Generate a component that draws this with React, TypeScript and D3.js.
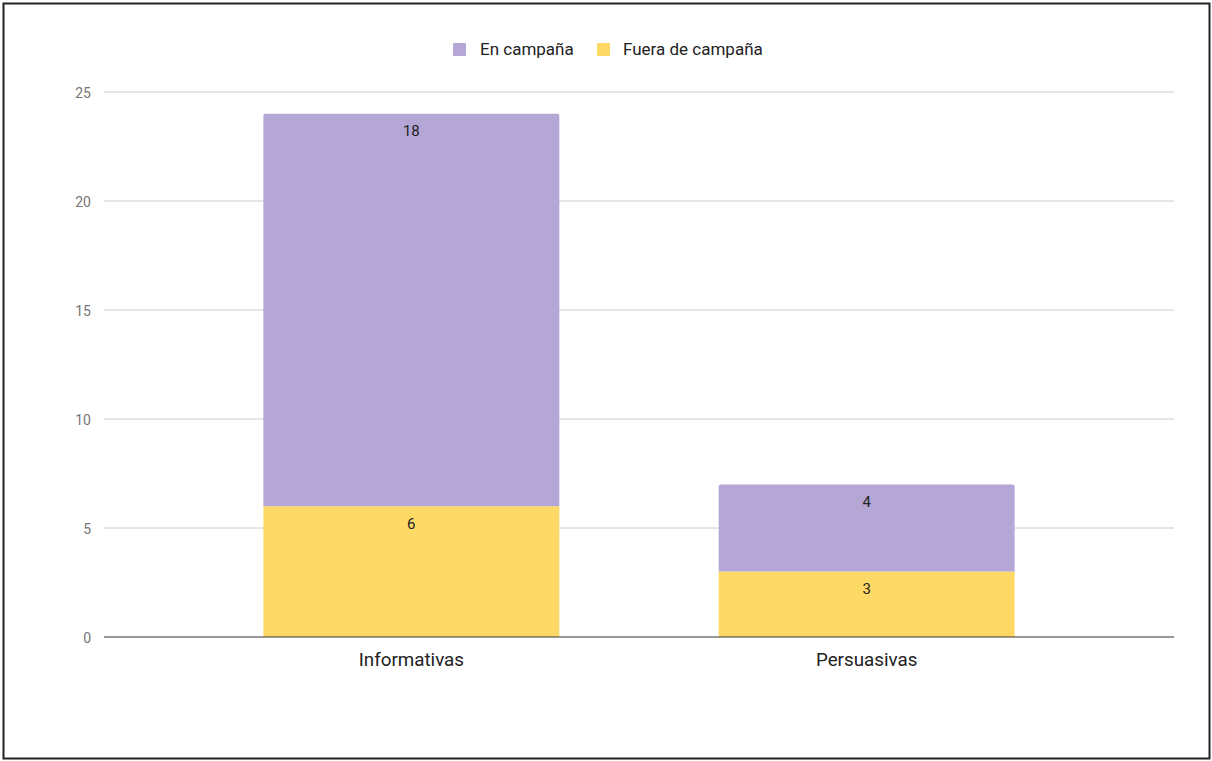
import React from "react";
import * as d3 from "d3";

const categories = ["Informativas", "Persuasivas"];
const seriesNames = ["Fuera de campaña", "En campaña"];
const fueraValues = [6, 3];
const enValues = [18, 4];
const yTicks = [0, 5, 10, 15, 20, 25];
const legendOrder = ["En campaña", "Fuera de campaña"];

const colors: Record<string, string> = {
  "En campaña": "#b4a7d6",
  "Fuera de campaña": "#ffd966",
};

const W = 1212;
const H = 761;
const FONT = "Roboto, 'Noto Sans', Arial, sans-serif";

export default function App() {
  const left = 104;
  const right = 1174;
  const top = 92;
  const bottom = 637;

  const x = d3
    .scaleBand<string>()
    .domain(categories)
    .range([left, right])
    .paddingInner(0.35)
    .paddingOuter(0.35);
  const y = d3.scaleLinear().domain([0, 25]).range([bottom, top]);

  const rows = categories.map((c, i) => ({
    cat: c,
    "Fuera de campaña": fueraValues[i],
    "En campaña": enValues[i],
  }));
  const stack = d3.stack<any>().keys(seriesNames);
  const layers = stack(rows);

  const bw = x.bandwidth();

  return (
    <svg
      width={W}
      height={H}
      style={{ position: "absolute", left: 0, top: 0, display: "block" }}
      fontFamily={FONT}
    >
      <rect x={0} y={0} width={W} height={H} fill="#fff" />
      <rect x={3.5} y={3.5} width={1206} height={755} fill="none" stroke="#222" strokeWidth={2} />

      {/* gridlines */}
      {yTicks.map((t) =>
        t === 0 ? null : (
          <line key={t} x1={left} x2={right} y1={y(t)} y2={y(t)} stroke="#cccccc" strokeWidth={1} />
        )
      )}
      {yTicks.map((t) => (
        <text
          key={"l" + t}
          x={91}
          y={y(t) + 6}
          textAnchor="end"
          fontSize={14}
          fill="#757575"
        >
          {t}
        </text>
      ))}

      {/* bars */}
      {layers.map((layer, li) =>
        layer.map((d, i) => {
          const x0 = x(categories[i])!;
          const y0 = y(d[1]);
          const h = y(d[0]) - y(d[1]);
          const isTop = li === layers.length - 1;
          const r = 2;
          const path = isTop
            ? `M${x0},${y0 + h} L${x0},${y0 + r} Q${x0},${y0} ${x0 + r},${y0} L${x0 + bw - r},${y0} Q${x0 + bw},${y0} ${x0 + bw},${y0 + r} L${x0 + bw},${y0 + h} Z`
            : `M${x0},${y0} h${bw} v${h} h${-bw} Z`;
          return (
            <g key={layer.key + i}>
              <path d={path} fill={colors[layer.key as string]} />
              <text
                x={x0 + bw / 2}
                y={y0 + 22.5}
                textAnchor="middle"
                fontSize={15}
                fill="#222"
              >
                {d[1] - d[0]}
              </text>
            </g>
          );
        })
      )}

      {/* baseline */}
      <line x1={left} x2={right} y1={y(0)} y2={y(0)} stroke="#333" strokeWidth={1} />

      {/* x labels */}
      {categories.map((c) => (
        <text
          key={c}
          x={x(c)! + bw / 2}
          y={666}
          textAnchor="middle"
          fontSize={18.8}
          fill="#222"
        >
          {c}
        </text>
      ))}

      {/* legend */}
      {(() => {
        const items = [
          { name: legendOrder[0], sx: 453, tx: 480 },
          { name: legendOrder[1], sx: 597, tx: 623 },
        ];
        return items.map((it) => (
          <g key={it.name}>
            <rect x={it.sx} y={43} width={13} height={13} rx={1} fill={colors[it.name]} />
            <text x={it.tx} y={55} fontSize={17} fill="#222">
              {it.name}
            </text>
          </g>
        ));
      })()}
    </svg>
  );
}
